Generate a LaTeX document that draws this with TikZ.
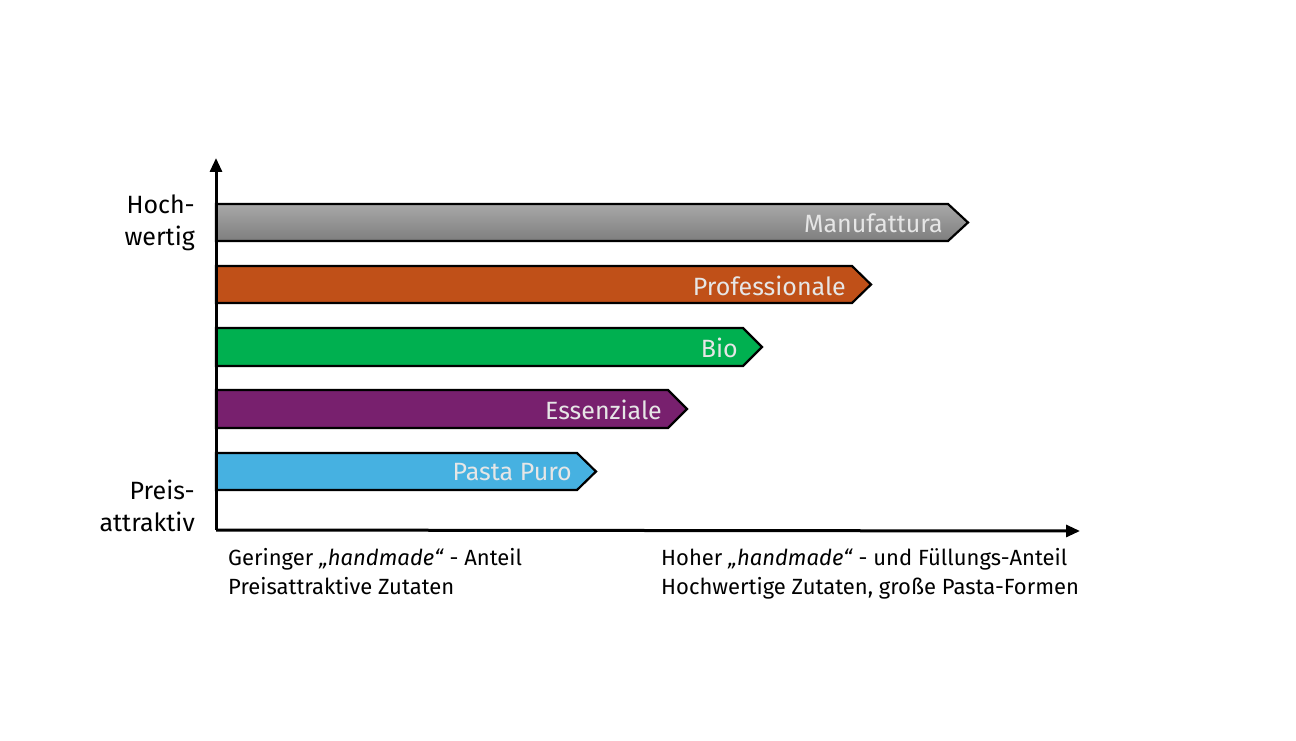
\documentclass[tikz,border=0pt]{standalone}
\usepackage{fontspec}
\setmainfont{Fira Sans}
\usetikzlibrary{arrows.meta}
\definecolor{cgrayT}{HTML}{A8A8A8}
\definecolor{cgrayB}{HTML}{7E7E7E}
\definecolor{corange}{HTML}{C05018}
\definecolor{cgreen}{HTML}{00B050}
\definecolor{cpurple}{HTML}{78206E}
\definecolor{cblue}{HTML}{46B1E1}
\definecolor{clabel}{HTML}{E6E6E6}
\tikzset{
  axis/.style={line width=3pt,-{Triangle[length=14pt,width=12pt]}},
  barline/.style={draw=black,line width=2.2pt,line join=miter},
  barlabel/.style={anchor=east,text=clabel,font=\fontsize{25}{28}\selectfont,inner sep=0pt},
  sidelabel/.style={anchor=east,align=right,font=\fontsize{25}{32}\selectfont,inner sep=0pt},
  bottomlabel/.style={anchor=north west,align=left,font=\fontsize{22}{29.5}\selectfont,inner sep=0pt},
}
\begin{document}
\begin{tikzpicture}[x=1pt,y=-1pt]
\useasboundingbox (0,0) rectangle (1296,741);
\path[top color=cgrayT,bottom color=cgrayB,barline] (216,204) -- (948,204) -- (968,222.5) -- (948,241) -- (216,241) -- cycle;
\node[barlabel] (manu) at (943,223) {Manufattura};
\path[fill=corange,barline] (216,266) -- (852,266) -- (871,284.5) -- (852,303) -- (216,303) -- cycle;
\node[barlabel] (prof) at (846,286) {Professionale};
\path[fill=cgreen,barline] (216,328) -- (743,328) -- (762,347) -- (743,366) -- (216,366) -- cycle;
\node[barlabel] (bio) at (738,348) {Bio};
\path[fill=cpurple,barline] (216,390) -- (668,390) -- (687,409) -- (668,428) -- (216,428) -- cycle;
\node[barlabel] (ess) at (662,410) {Essenziale};
\path[fill=cblue,barline] (216,453) -- (577,453) -- (596,471.5) -- (577,490) -- (216,490) -- cycle;
\node[barlabel] (pasta) at (572,472) {Pasta Puro};
% axes
\coordinate (origin) at (216,530);
\coordinate (ytip) at (216,158);
\coordinate (xtip) at (1080,531);
\draw[axis] (origin) -- (ytip);
\draw[axis] (origin) -- (xtip);
\node[sidelabel] (hoch) at (195,223) {Hoch-\\wertig};
\node[sidelabel] (preis) at (195,506) {Preis-\\attraktiv};
\node[bottomlabel] (low) at (228,548) {Geringer \emph{„handmade“} - Anteil\\Preisattraktive Zutaten};
\node[bottomlabel] (high) at (661,548) {Hoher \emph{„handmade“} - und Füllungs-Anteil\\Hochwertige Zutaten, große Pasta-Formen};
\end{tikzpicture}
\end{document}
